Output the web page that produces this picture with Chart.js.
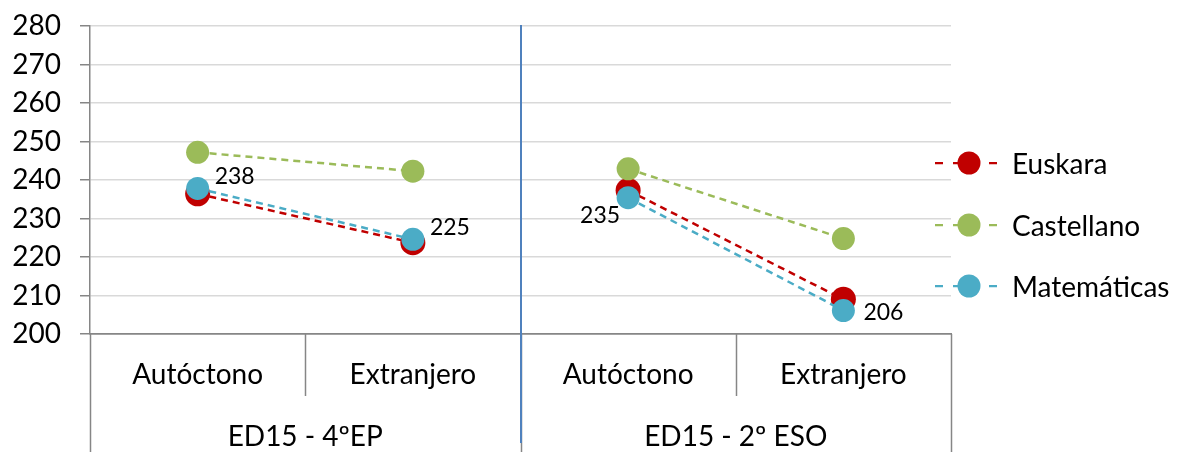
<!DOCTYPE html>
<html>
<head>
<meta charset="utf-8">
<script src="https://cdn.jsdelivr.net/npm/chart.js@4.4.1/dist/chart.umd.min.js"></script>
<style>
  html, body { margin: 0; padding: 0; background: #fff; }
  #wrap { position: relative; width: 1187px; height: 452px; overflow: hidden; }
  #legend { position: absolute; left: 935px; top: 0; font-family: Lato, sans-serif; font-size: 28px; color: #000; }
  .item { position: absolute; left: 0; height: 30px; display: flex; align-items: center; white-space: nowrap; }
  .item svg { display: block; }
  .item span { margin-left: 15px; }
</style>
</head>
<body>
<div id="wrap">
  <canvas id="c" width="1187" height="452"></canvas>
  <div id="legend"></div>
</div>
<script>
// ---- data ----
const categories = ['Autóctono', 'Extranjero', 'Autóctono', 'Extranjero'];
const groups = ['ED15 - 4ºEP', 'ED15 - 2º ESO'];
const seriesNames = ['Euskara', 'Castellano', 'Matemáticas'];
const euskara = [236.4, 223.7, 237.3, 209.0];
const castellano = [247.2, 242.3, 242.9, 224.8];
const matematicas = [237.8, 224.6, 235.4, 206.1];
const matematicasLabels = ['238', '225', '235', '206'];
const yMin = 200, yMax = 280, yStep = 10;

// ---- styles ----
const colors = ['#c00000', '#9bbb59', '#4bacc6'];
const radii = [12.5, 11.5, 11.5];
const AXIS = '#868686';
const GRID = '#d9d9d9';
const FONT = 'Lato, sans-serif';

function makeDataset(i, values) {
  const col = colors[i];
  return {
    label: seriesNames[i],
    data: values,
    borderColor: col,
    backgroundColor: col,
    pointBackgroundColor: col,
    pointBorderColor: col,
    pointBorderWidth: 0,
    pointRadius: radii[i],
    pointHoverRadius: radii[i],
    borderWidth: 2.5,
    borderDash: [7, 5],
    tension: 0,
    fill: false,
    order: 3 - i,
    segment: {
      borderColor: ctx => ctx.p0DataIndex === 1 ? 'rgba(0,0,0,0)' : col
    }
  };
}

const labelOffsets = [
  { dx: 17, dy: -12, align: 'left' },
  { dx: 17, dy: -12, align: 'left' },
  { dx: -8, dy: 18, align: 'right' },
  { dx: 20, dy: 2, align: 'left' }
];

const decorPlugin = {
  id: 'decor',
  beforeDatasetsDraw(chart) {
    const ctx = chart.ctx;
    const xs = chart.scales.x;
    const area = chart.chartArea;
    const H = chart.height;
    const n = categories.length;
    const px = i => xs.getPixelForValue(i);
    const bounds = [];
    for (let i = 0; i <= n; i++) {
      if (i === 0) bounds.push(area.left);
      else if (i === n) bounds.push(area.right);
      else bounds.push((px(i - 1) + px(i)) / 2);
    }
    ctx.save();
    ctx.strokeStyle = AXIS;
    ctx.lineWidth = 1.5;
    bounds.forEach((b, i) => {
      const full = (i === 0 || i === n || i === n / 2);
      ctx.beginPath();
      ctx.moveTo(Math.round(b) + 0.5, area.bottom);
      ctx.lineTo(Math.round(b) + 0.5, full ? H : 396);
      ctx.stroke();
    });
    // group separator in blue
    const mid = bounds[n / 2];
    ctx.strokeStyle = '#4f81bd';
    ctx.lineWidth = 2;
    ctx.beginPath();
    ctx.moveTo(Math.round(mid), area.top - 1);
    ctx.lineTo(Math.round(mid), H - 9);
    ctx.stroke();
    ctx.restore();
  },
  afterDatasetsDraw(chart) {
    const ctx = chart.ctx;
    const meta = chart.getDatasetMeta(2);
    ctx.save();
    ctx.font = '23px ' + FONT;
    ctx.fillStyle = '#000';
    ctx.textBaseline = 'middle';
    meta.data.forEach((pt, i) => {
      const o = labelOffsets[i];
      ctx.textAlign = o.align;
      ctx.fillText(matematicasLabels[i], pt.x + o.dx, pt.y + o.dy);
    });
    ctx.restore();
  }
};

function zeroPad(s) { s.paddingTop = 0; s.paddingBottom = 0; s.paddingLeft = 0; s.paddingRight = 0; }

new Chart(document.getElementById('c'), {
  type: 'line',
  data: {
    labels: categories,
    datasets: [makeDataset(0, euskara), makeDataset(1, castellano), makeDataset(2, matematicas)]
  },
  options: {
    responsive: false,
    animation: false,
    layout: { padding: { top: 26, right: 236, left: 0, bottom: 0 } },
    plugins: { legend: { display: false }, tooltip: { enabled: false } },
    scales: {
      x: {
        type: 'category',
        offset: true,
        position: 'bottom',
        grid: { display: false, drawTicks: false },
        border: { display: true, color: AXIS, width: 1.5 },
        ticks: { font: { family: FONT, size: 28 }, color: '#000', padding: 24, maxRotation: 0, autoSkip: false },
        afterFit(s) { s.height = 62; zeroPad(s); }
      },
      x2: {
        type: 'category',
        labels: groups,
        offset: true,
        position: 'bottom',
        grid: { display: false, drawTicks: false },
        border: { display: false },
        ticks: { font: { family: FONT, size: 28 }, color: '#000', padding: 24, maxRotation: 0, autoSkip: false },
        afterFit(s) { s.height = 56; zeroPad(s); }
      },
      y: {
        min: yMin,
        max: yMax,
        ticks: { stepSize: yStep, font: { family: FONT, size: 28 }, color: '#000', padding: 19 },
        grid: {
          color: c => (c.tick && c.tick.value === yMin) ? AXIS : GRID,
          lineWidth: 1.5,
          tickLength: 10,
          tickColor: AXIS
        },
        border: { display: true, color: AXIS, width: 1.5 },
        afterFit(s) { s.width = 90; zeroPad(s); }
      }
    }
  },
  plugins: [decorPlugin]
});

// HTML legend
const legendTops = [163, 225, 286];
const legend = document.getElementById('legend');
seriesNames.forEach((name, i) => {
  const row = document.createElement('div');
  row.className = 'item';
  row.style.top = (legendTops[i] - 15) + 'px';
  row.innerHTML =
    '<svg width="62" height="30" viewBox="0 0 62 30">' +
    '<line x1="0" y1="15" x2="62" y2="15" stroke="' + colors[i] + '" stroke-width="2.25" stroke-dasharray="8 10"/>' +
    '<circle cx="34" cy="15" r="11.5" fill="' + colors[i] + '"/></svg>' +
    '<span>' + name + '</span>';
  legend.appendChild(row);
});
</script>
</body>
</html>
